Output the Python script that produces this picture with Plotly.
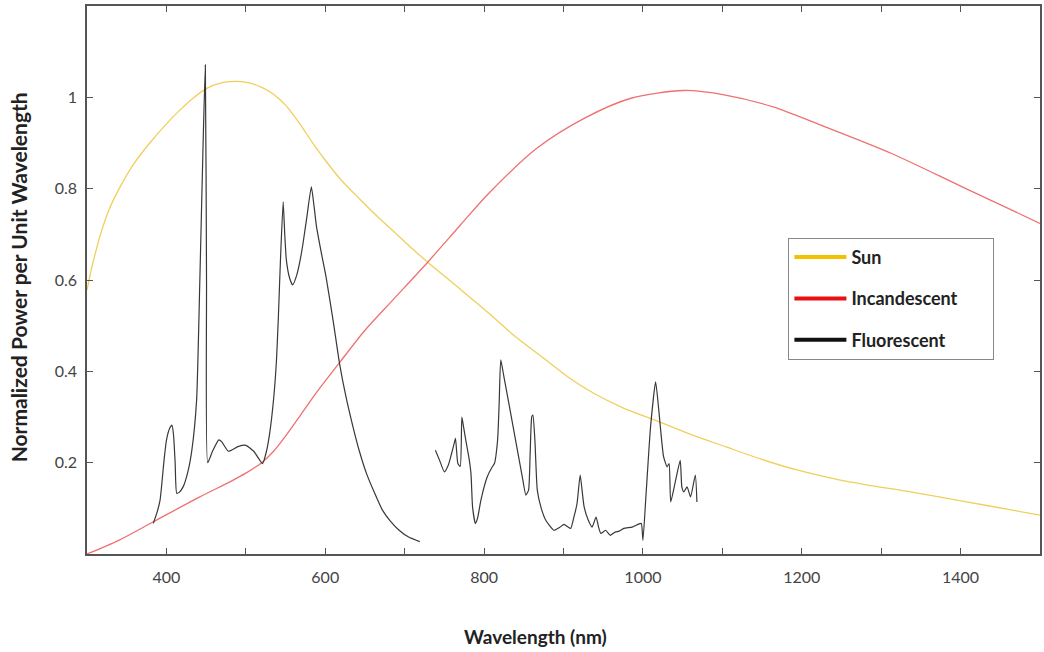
import plotly.graph_objects as go

# ---------------- data ----------------
sun_x = [300, 305, 310, 317, 328, 342, 360, 379, 400, 417, 435, 449, 470, 490, 505, 520, 534, 550,
         568, 585, 601, 620, 643, 665, 690, 710, 729, 770, 806, 840, 878, 908, 938, 975, 1015, 1060,
         1104, 1150, 1194, 1240, 1283, 1330, 1373, 1440, 1500]
sun_y = [0.578, 0.62, 0.655, 0.70, 0.755, 0.805, 0.857, 0.90, 0.942, 0.972, 1.0, 1.018, 1.032, 1.035,
         1.031, 1.022, 1.008, 0.983, 0.942, 0.898, 0.860, 0.819, 0.778, 0.74, 0.70, 0.668, 0.639,
         0.58, 0.527, 0.475, 0.425, 0.385, 0.352, 0.32, 0.293, 0.262, 0.235, 0.207, 0.184, 0.165,
         0.151, 0.138, 0.125, 0.104, 0.085]

inc_x = [300, 340, 383, 442, 480, 500, 520, 535, 550, 568, 590, 618, 650, 685, 729, 770, 806, 866,
         926, 985, 1051, 1104, 1164, 1224, 1313, 1402, 1500]
inc_y = [0.0, 0.03, 0.070, 0.125, 0.158, 0.177, 0.200, 0.225, 0.258, 0.302, 0.356, 0.419, 0.49,
         0.556, 0.639, 0.72, 0.790, 0.888, 0.954, 0.998, 1.015, 1.005, 0.979, 0.939, 0.877, 0.804,
         0.724]

fl1_x = [383.5, 388, 392, 397, 400, 404, 407, 409, 411, 413, 416, 421, 427, 432, 438, 442, 446, 449,
         450.5, 452, 458, 466, 470, 478, 490, 500, 510, 521, 526, 530, 535, 538.6, 541, 543.6, 547,
         549, 551, 555, 559, 564, 568, 572, 577, 582.5, 586, 589, 595, 601, 610, 618, 626, 635, 643,
         652, 662, 672, 682, 693, 705, 719]
fl1_y = [0.067, 0.09, 0.118, 0.205, 0.249, 0.275, 0.282, 0.26, 0.2, 0.133, 0.135, 0.147, 0.18, 0.227,
         0.337, 0.593, 0.885, 1.071, 0.6, 0.20, 0.225, 0.25, 0.245, 0.225, 0.235, 0.238, 0.225, 0.198,
         0.225, 0.264, 0.34, 0.425, 0.52, 0.644, 0.771, 0.70, 0.644, 0.605, 0.589, 0.61, 0.64, 0.68,
         0.74, 0.804, 0.76, 0.717, 0.66, 0.607, 0.51, 0.417, 0.345, 0.278, 0.225, 0.176, 0.134, 0.096,
         0.072, 0.052, 0.037, 0.027]

fl2_x = [738.7, 744, 750, 755, 758, 762, 764, 767, 770, 772, 774, 777, 781, 783.5, 785.5, 789, 792,
         796, 804, 810, 813, 817, 819, 821, 825, 832, 842, 848, 852.6, 856, 858, 860, 861.5, 864, 867,
         872, 877.7, 888, 895, 900.7, 905, 909, 913, 917, 921, 924, 926, 931, 936, 941, 944, 947, 953,
         959, 965, 970, 976, 986.5, 995, 998, 1000, 1004, 1009.6, 1016, 1020, 1026, 1030.5, 1033,
         1035, 1041, 1047, 1049, 1051.5, 1055.6, 1060, 1066, 1068]
fl2_y = [0.227, 0.205, 0.18, 0.195, 0.213, 0.24, 0.253, 0.198, 0.192, 0.300, 0.28, 0.249, 0.21, 0.176,
         0.103, 0.067, 0.08, 0.118, 0.169, 0.19, 0.198, 0.249, 0.33, 0.425, 0.388, 0.322, 0.227, 0.17,
         0.129, 0.14, 0.22, 0.300, 0.304, 0.249, 0.14, 0.10, 0.074, 0.052, 0.058, 0.065, 0.06, 0.056,
         0.08, 0.11, 0.173, 0.13, 0.103, 0.075, 0.059, 0.081, 0.06, 0.045, 0.052, 0.041, 0.048, 0.05,
         0.056, 0.059, 0.066, 0.067, 0.030, 0.132, 0.278, 0.377, 0.315, 0.213, 0.191, 0.198, 0.114,
         0.16, 0.205, 0.147, 0.136, 0.147, 0.125, 0.173, 0.114]

x_tickvals = [300, 400, 500, 600, 700, 800, 900, 1000, 1100, 1200, 1300, 1400, 1500]
x_ticktext = ["", "400", "", "600", "", "800", "", "1000", "", "1200", "", "1400", ""]
y_tickvals = [0, 0.2, 0.4, 0.6, 0.8, 1.0]
y_ticktext = ["", "0.2", "0.4", "0.6", "0.8", "1"]

series_names = ["Sun", "Incandescent", "Fluorescent"]
legend_colors = ["#f2c200", "#e81010", "#111111"]
line_colors = ["#efcf5c", "#ef7070", "#383838"]

FONT = "Lato"

fig = go.Figure()

fig.add_trace(go.Scatter(x=sun_x, y=sun_y, mode="lines", showlegend=False, hoverinfo="skip",
                         line=dict(color=line_colors[0], width=1.3, shape="spline", smoothing=0.8)))
fig.add_trace(go.Scatter(x=inc_x, y=inc_y, mode="lines", showlegend=False, hoverinfo="skip",
                         line=dict(color=line_colors[1], width=1.3, shape="spline", smoothing=0.8)))
fig.add_trace(go.Scatter(x=fl1_x, y=fl1_y, mode="lines", showlegend=False, hoverinfo="skip",
                         line=dict(color=line_colors[2], width=1.2, shape="spline", smoothing=0.5)))
fig.add_trace(go.Scatter(x=fl2_x, y=fl2_y, mode="lines", showlegend=False, hoverinfo="skip",
                         line=dict(color=line_colors[2], width=1.2, shape="spline", smoothing=0.5)))

# legend entries (thick swatches); trailing no-break spaces widen the box like the original
pad = "\u00a0" * 7
for i, nm in enumerate(series_names):
    fig.add_trace(go.Scatter(x=[None], y=[None], mode="lines", name=nm + pad, legendgroup=nm,
                             line=dict(color=legend_colors[i], width=4)))

axis_common = dict(showline=True, linecolor="#555555", linewidth=1.5, mirror="ticks",
                   ticks="inside", ticklen=6, tickwidth=1.2, tickcolor="#555555",
                   showgrid=False, zeroline=False,
                   tickfont=dict(family=FONT, size=16, color="#444444"))

fig.update_layout(
    width=1044, height=652,
    margin=dict(l=87, r=2, t=6, b=98),
    paper_bgcolor="white", plot_bgcolor="white",
    xaxis=dict(range=[300, 1500], tickmode="array", tickvals=x_tickvals, ticktext=x_ticktext,
               ticklabelstandoff=8, **axis_common),
    yaxis=dict(range=[0, 1.2], tickmode="array", tickvals=y_tickvals, ticktext=y_ticktext,
               ticklabelstandoff=5, **axis_common),
    legend=dict(x=0.736, y=0.577, xanchor="left", yanchor="top",
                bordercolor="#888888", borderwidth=1, bgcolor="white",
                traceorder="grouped", tracegroupgap=15, itemwidth=52,
                font=dict(family=FONT, size=18, color="#222222", weight="bold")),
    annotations=[
        dict(text="<b>Wavelength (nm)</b>", xref="paper", yref="paper", x=0.471, y=-0.15,
             xanchor="center", yanchor="middle", showarrow=False,
             font=dict(family=FONT, size=19, color="#222222")),
        dict(text="<b>Normalized Power per Unit Wavelength</b>", xref="paper", yref="paper",
             x=-0.0723, y=0.505, xanchor="center", yanchor="middle", textangle=-90, showarrow=False,
             font=dict(family=FONT, size=21, color="#222222")),
    ],
)

fig.write_html("out.html", config={"displayModeBar": False},
               post_script="document.body.style.margin='0px';")
